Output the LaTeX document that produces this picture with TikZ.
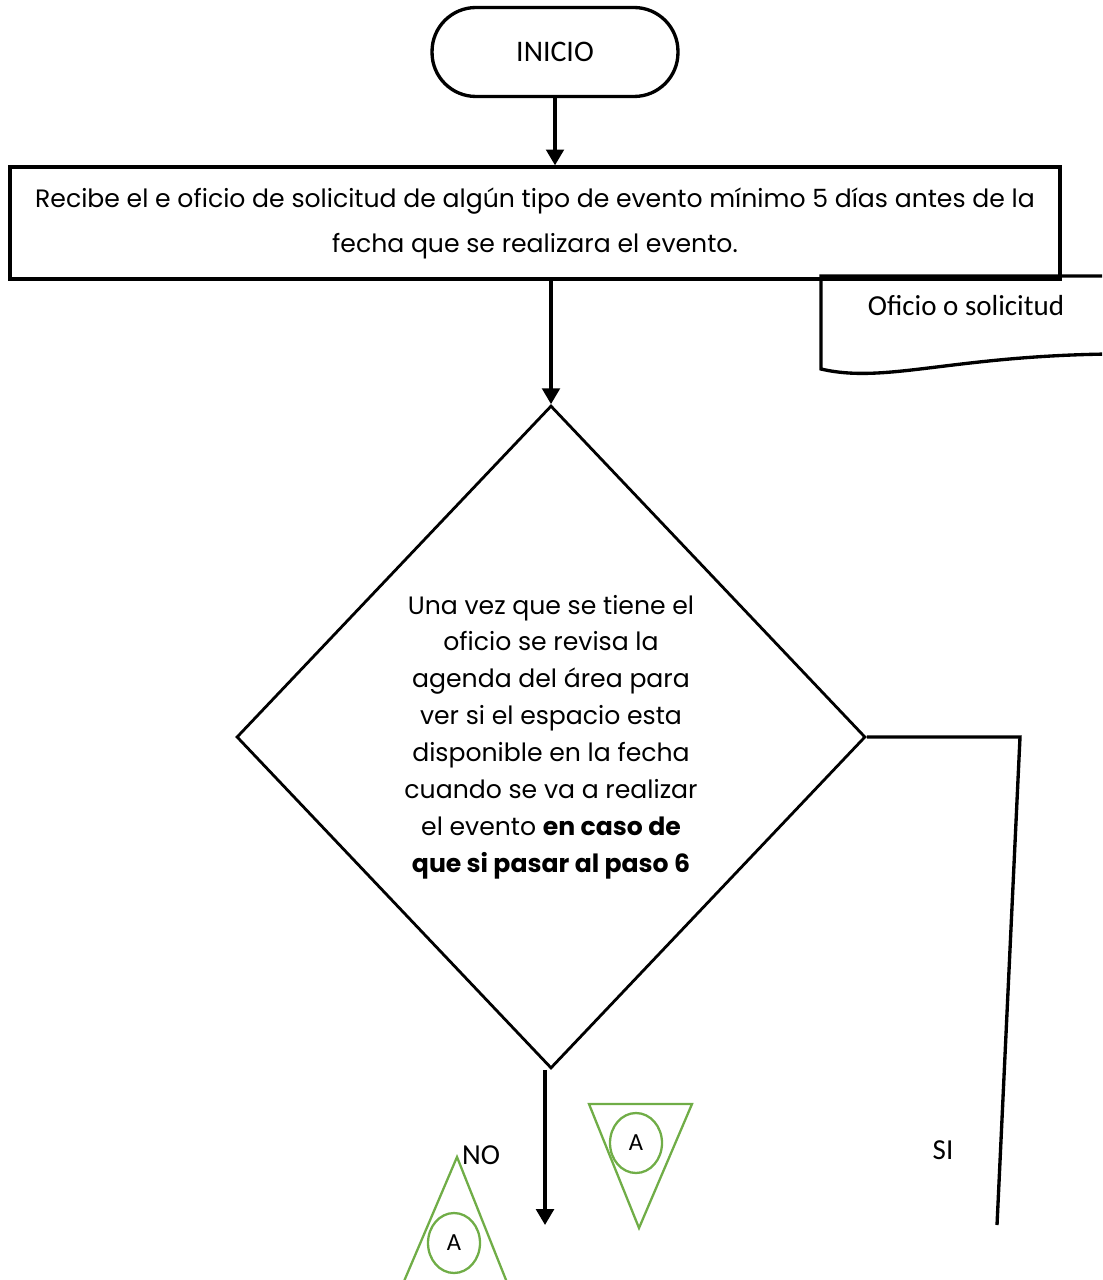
\documentclass[tikz,border=0pt]{standalone}
\usepackage{fontspec}
\setmainfont{Poppins}
\newfontfamily\calibri{Carlito}
\usepackage{xcolor}
\usepackage{tikz}
\usetikzlibrary{
  arrows.meta,
  positioning,
  calc,
  shapes.geometric}
\definecolor{conngreen}{RGB}{112,173,71}
\tikzset{flecha/.style={-{Triangle[length=9pt,width=10pt]}},
         terminal/.style={draw,rounded corners=25pt,minimum width=4.92cm,minimum height=1.78cm,font=\calibri\fontsize{17pt}{20pt}\selectfont},
         proceso/.style={draw,minimum width=21cm,minimum height=2.24cm,align=center,font=\fontsize{14.3pt}{25.6pt}\selectfont},
         decision/.style={draw,diamond,minimum width=12.58cm,minimum height=13.26cm,align=center,inner sep=0pt,font=\fontsize{14.3pt}{21pt}\selectfont},
         etiqueta/.style={font=\calibri\fontsize{16.5pt}{19pt}\selectfont},
         conector/.style={draw=conngreen,line width=1.3pt},
         circA/.style={draw=conngreen,line width=1.3pt,ellipse,minimum width=1.04cm,minimum height=1.2cm,inner sep=0pt,font=\calibri\fontsize{14pt}{16pt}\selectfont}
        }

\begin{document}
\begin{tikzpicture}[x=0.02cm,y=-0.02cm,line width=1.9pt]
\useasboundingbox (0,0) rectangle (1102,1280);
\clip (0,0) rectangle (1102,1280);
\node[terminal] at (555,52)(inicio){INICIO};
\node[proceso] at (535,223)(recibe){Recibe el e oficio de solicitud de algún tipo de evento mínimo 5 días antes de la\\fecha que se realizara el evento.};
% documento
\draw (1110,276) -- (821,276) -- (821,369) .. controls (885,384) and (950,356) .. (1110,354);
\node[font=\calibri\fontsize{16.5pt}{19pt}\selectfont] at (966,306)(oficio){Oficio o solicitud};
\node[decision,line width=1.6pt] at (551,737)(revisa){Una vez que se tiene el\\oficio se revisa la\\agenda del área para\\ver si el espacio esta\\disponible en la fecha\\cuando se va a realizar\\el evento \textbf{en caso de}\\\textbf{que si pasar al paso 6}};
\coordinate (noFin) at (545,1225);
\coordinate (siEsq) at (1020,737);
\coordinate (siFin) at (997,1225);
\draw[flecha] (inicio.south) -- (inicio.south |- recibe.north);
\draw[flecha] (recibe.south -| revisa.north) -- (revisa.north);
\draw[flecha] (revisa.south -| noFin) -- (noFin);
\draw (revisa.east) -- (siEsq) -- (siFin);
\node[etiqueta] at (481,1155)(no){NO};
\node[etiqueta] at (943,1150)(si){SI};
% conectores
\draw[conector] (457,1157) -- (396,1300) -- (514,1300) -- cycle;
\node[circA] at (454,1243)(conA){A};
\draw[conector] (589,1104) -- (692,1104) -- (639,1228) -- cycle;
\node[circA] at (636,1143)(conB){A};
\end{tikzpicture}
\end{document}
